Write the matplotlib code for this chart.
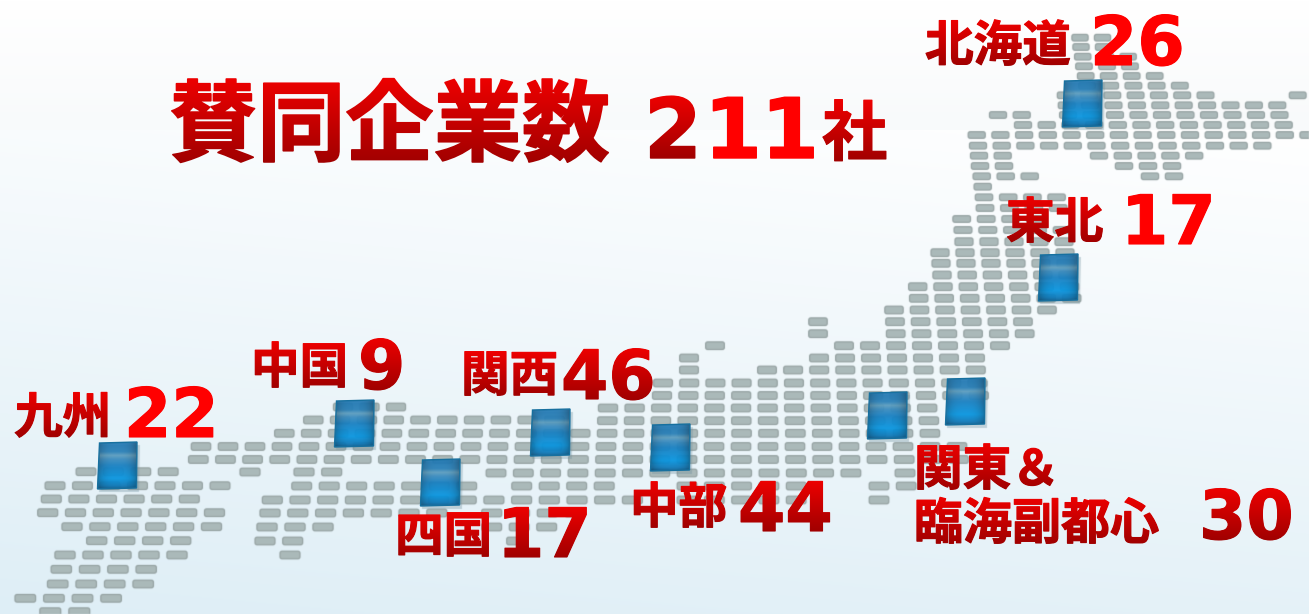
import matplotlib
matplotlib.use("Agg")
import matplotlib.pyplot as plt
import matplotlib.patheffects as pe
import numpy as np
from matplotlib.collections import PatchCollection
from matplotlib.patches import FancyBboxPatch, Polygon

W, H = 1309, 614
CJK = ["Noto Sans CJK JP", "DejaVu Sans"]
DIGIT = ["DejaVu Sans"]

# regions and their counts
regions = ["九州", "中国", "四国", "関西", "中部", "関東＆", "東北", "北海道"]
counts = [22, 9, 17, 46, 44, 30, 17, 26]
title_text = "賛同企業数"
title_unit = "社"
second_line = "臨海副都心"

# label anchors (left x, baseline y) for name and number of each region
name_x = [14, 251, 395, 461, 630, 914, 1006, 925]
name_y = [433, 383, 552, 391, 523, 485, 238, 61]
num_x = [124, 358, 497, 561, 738, 1199, 1121, 1090]
num_y = [437, 389, 557, 399, 531, 539, 244, 65]
num_fade = [False, True, True, True, True, True, False, False]

# cubes: left x, top y
cube_x = [97, 334, 420, 530, 650, 867, 945, 1038, 1062]
cube_y = [442, 400, 459, 409, 424, 392, 378, 254, 80]

# map tiles as rows: y, first x, step, number of tiles
tile_y = [37.7, 47, 56.7, 66.3, 76, 85.7, 95.3, 95.3, 105.3, 115, 115, 125, 135, 145.7,
          155.7, 155.7, 166, 166, 176.3, 176.3, 186.7, 197.3, 208, 219, 230,
          241.7, 252.7, 263.3, 275, 286.7, 298.3, 310, 321.7, 321.7, 333.7, 333.7,
          345.7, 345.7, 358, 358, 370, 370, 383, 395.5, 408, 407, 420.7, 420, 433.3,
          446.5, 459.5, 473, 473, 472, 472,
          471.7, 485.7, 499, 512.7, 526.7, 540.7, 555, 569.3, 584, 598.3, 611.7,
          486, 486, 486, 486, 500, 500, 500, 513, 513, 527, 527, 541, 541, 555]
tile_x0 = [1080, 1081, 1082.7, 1084, 1085.7, 1087, 1065.7, 1297.7, 1066.7, 998, 1068, 1023, 976.7, 978,
           979, 1099, 980, 1124, 981.7, 1150, 982.7, 984, 985, 961.7, 963,
           964, 940, 941, 942, 917.7, 918.7, 894, 818, 895, 818, 895.7,
           715, 844, 689, 819, 689, 767, 663, 662, 608, 343, 607.3, 313.3, 284.3,
           201, 198.3, 496, 905, 304, 250,
           86, 55, 51.3, 47.7, 72, 96.7, 65, 61.3, 57.7, 25.3, 50.3,
           301.7, 521.7, 687, 879, 272.3, 687, 879, 270, 491.7, 267, 491.7, 265, 516.7, 290]
tile_step = [22.5, 22.5, 22.7, 23, 23, 23.2, 23.3, 23.3, 23.4, 23.7, 23.5, 23.7, 23.7, 23.7,
             23.7, 23.8, 24, 24, 24, 24, 24, 24.2, 24.4, 24.5, 24.8,
             25, 25, 25, 25.2, 25.3, 25.5, 25.5, 25.6, 25.6, 25.8, 25.8,
             26, 26, 26, 26, 26.1, 26.1, 26.2, 26.4, 26.6, 26.5, 26.8, 26.8, 26.9,
             27, 27.15, 27.3, 27.3, 27.7, 27.7,
             27.4, 27.5, 27.6, 27.8, 27.9, 28, 28, 28.3, 28.5, 28.6, 29,
             27.5, 27.5, 27.3, 27.2, 27.7, 27.3, 27.2, 27.8, 27.8, 28, 27.5, 27.7, 27.7, 27.7]
tile_n = [2, 2, 3, 3, 4, 5, 7, 1, 10, 2, 10, 12, 15, 13,
          2, 5, 2, 3, 3, 2, 1, 4, 4, 4, 5,
          5, 6, 6, 6, 7, 7, 7, 1, 6, 1, 6,
          1, 7, 1, 7, 1, 9, 13, 13, 13, 3, 13, 10, 25,
          29, 29, 14, 1, 2, 1,
          4, 7, 6, 7, 6, 4, 5, 4, 4, 4, 2,
          7, 4, 5, 2, 14, 5, 1, 7, 4, 3, 3, 2, 1, 1]


def red_fade(img, dpi):
    # bright red at the top of the glyphs, dark red at the bottom
    out = img.copy()
    t = np.linspace(0, 1, img.shape[0])[:, None]
    out[..., 0] = (238 - 78 * t) / 255
    out[..., 1] = 0
    out[..., 2] = 0
    return out, 0, 0


def soften(img, dpi):
    pad = 2
    big = np.pad(img, ((pad, pad), (pad, pad), (0, 0)))
    big[..., :3] *= big[..., 3:]
    soft = big * 0.52
    for dy, dx in [(1, 0), (-1, 0), (0, 1), (0, -1)]:
        soft = soft + np.roll(np.roll(big, dy, axis=0), dx, axis=1) * 0.12
    soft[..., :3] = (soft[..., :3] / np.maximum(soft[..., 3:], 1e-3)).clip(0, 1)
    return soft, -pad, -pad


fig = plt.figure(figsize=(W / 100, H / 100), dpi=100)
ax = fig.add_axes([0, 0, 1, 1])

# background
yy, xx = np.mgrid[0:H, 0:W]
s = 0.8 * np.clip((yy - 130) / 484, 0, 1) + 0.2 * (1 - xx / W)
low = np.array([222, 238, 246])
bg = 255 + (low - 255) * s[..., None]
top = yy[..., None] / 130
bg = np.where(yy[..., None] < 130, 255 + (np.array([248, 250, 251]) - 255) * top, bg)
ax.imshow(bg / 255, extent=(0, W, H, 0), aspect="auto", zorder=0)

# grey tiles
tiles = []
for y, x0, step, n in zip(tile_y, tile_x0, tile_step, tile_n):
    w = step * 0.72
    h = 7.6 if y > 240 else 6.6
    for k in range(n):
        tiles.append(FancyBboxPatch((x0 + k * step - w / 2 + 1.5, y - h / 2 + 1.5), w - 3, h - 3,
                                    boxstyle="round,pad=1.5,rounding_size=2"))
pc = PatchCollection(tiles, facecolor="#abb9b9", edgecolor="#96a3a3", linewidth=0.9, zorder=1)
pc.set_agg_filter(soften)
ax.add_collection(pc)

# blue cubes
stops = np.array([0, .2, .28, .36, .5, .78, .93, 1])
cols = np.array([[30, 118, 178], [40, 128, 185], [92, 158, 192], [58, 140, 192],
                 [22, 128, 195], [6, 150, 226], [12, 122, 188], [12, 98, 152]]) / 255
v = np.linspace(0, 1, 48)
col_img = np.stack([np.interp(v, stops, cols[:, i]) for i in range(3)], axis=1)[:, None, :]
u = np.linspace(0, 1, 40)[None, :, None]
edge_dark = 1 - 0.28 * np.abs(2 * u - 1) ** 3
cube = np.concatenate([col_img * edge_dark, np.full((48, 40, 1), 0.92)], axis=2)
for cx, cy in zip(cube_x, cube_y):
    shadow = Polygon([(cx + 3, cy + 3), (cx + 43, cy + 3), (cx + 42, cy + 50), (cx + 2, cy + 50)],
                     closed=True, facecolor="#6f8f9c", alpha=0.35, edgecolor="none", zorder=2)
    shadow.set_agg_filter(soften)
    ax.add_patch(shadow)
    outline = [(cx + 2.5, cy + 1), (cx + 40, cy), (cx + 39.5, cy + 46), (cx + 0.5, cy + 47)]
    im = ax.imshow(cube, extent=(cx, cx + 40, cy + 47, cy), aspect="auto",
                   interpolation="bilinear", zorder=3)
    patch = Polygon(outline, closed=True, facecolor="none", edgecolor="#17709f", linewidth=1.0, zorder=3.1)
    ax.add_patch(patch)
    im.set_clip_path(patch)


def put(x, y, s, size, family=CJK, fade=True, heavy=0):
    t = ax.text(x, y, s, fontsize=size, family=family, fontweight="bold",
                color="#ff0000", ha="left", va="baseline", zorder=5)
    if heavy:
        t.set_path_effects([pe.withStroke(linewidth=heavy, foreground="#ff0000")])
    if fade:
        t.set_agg_filter(red_fade)
    return t


# title
total = str(sum(counts))
put(169, 154, title_text, 63.5, heavy=1.2)
put(644, 158, total[0], 60, DIGIT, True, heavy=1.0)
put(704, 158, total[1], 60, DIGIT, False, heavy=1.0)
put(761, 158, total[2], 60, DIGIT, False, heavy=1.0)
put(822, 155, title_unit, 47, heavy=0.8)

# region labels
for i, name in enumerate(regions):
    put(name_x[i], name_y[i], name, 35, heavy=0.8)
    put(num_x[i], num_y[i], str(counts[i]), 49, DIGIT, num_fade[i], heavy=0.8)
put(914, 539, second_line, 35.3, heavy=0.8)

ax.set_xlim(0, W)
ax.set_ylim(H, 0)
ax.axis("off")
fig.savefig("out.png", dpi=100)
